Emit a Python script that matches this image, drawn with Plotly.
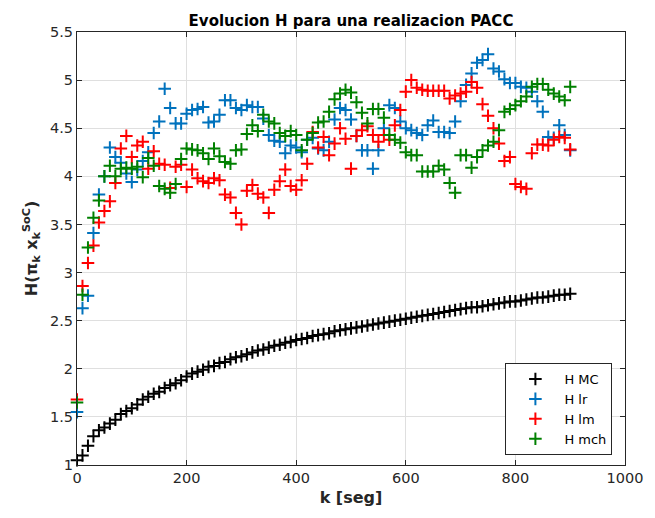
import plotly.graph_objects as go

# k values (seg)
k = list(range(0, 901, 10))

h_mc = [1.05, 1.10, 1.20, 1.30, 1.36, 1.39, 1.43, 1.47, 1.53, 1.56,
        1.59, 1.63, 1.68, 1.71, 1.74, 1.76, 1.80, 1.83, 1.85, 1.88,
        1.92, 1.95, 1.97, 1.99, 2.02, 2.03, 2.06, 2.07, 2.10, 2.12,
        2.13, 2.15, 2.17, 2.19, 2.20, 2.22, 2.24, 2.25, 2.27, 2.28,
        2.30, 2.31, 2.32, 2.34, 2.35, 2.36, 2.37, 2.39, 2.40, 2.41,
        2.42, 2.43, 2.44, 2.45, 2.46, 2.47, 2.48, 2.49, 2.50, 2.51,
        2.52, 2.53, 2.54, 2.55, 2.56, 2.57, 2.58, 2.59, 2.60, 2.61,
        2.62, 2.63, 2.64, 2.64, 2.65, 2.66, 2.67, 2.68, 2.69, 2.70,
        2.70, 2.71, 2.72, 2.73, 2.74, 2.74, 2.75, 2.76, 2.77, 2.77,
        2.78]

h_lr = [1.55, 2.63, 2.76, 3.41, 3.81, 4.00, 4.30, 4.20, 4.14, 4.03,
        3.94, 4.07, 4.16, 4.25, 4.45, 4.57, 4.91, 4.71, 4.55, 4.55,
        4.65, 4.69, 4.70, 4.72, 4.56, 4.57, 4.64, 4.79, 4.79, 4.71,
        4.69, 4.74, 4.72, 4.72, 4.60, 4.43, 4.37, 4.36, 4.24, 4.32,
        4.30, 4.25, 4.38, 4.40, 4.29, 4.27, 4.36, 4.59, 4.71, 4.69,
        4.59, 4.42, 4.27, 4.27, 4.08, 4.27, 4.50, 4.74, 4.71, 4.57,
        4.50, 4.48, 4.45, 4.43, 4.53, 4.58, 4.46, 4.46, 4.45, 4.57,
        4.78, 4.95, 5.07, 5.18, 5.21, 5.27, 5.12, 5.09, 5.01, 4.97,
        4.97, 4.93, 4.92, 4.88, 4.78, 4.67, 4.41, 4.40, 4.53, 4.43,
        4.27]

h_lm = [1.68, 2.86, 3.10, 3.28, 3.52, 3.64, 3.74, 3.93, 4.29, 4.42,
        4.20, 4.32, 4.36, 4.08, 4.26, 4.13, 4.12, 3.88, 4.10, 4.12,
        3.89, 4.07, 3.98, 3.95, 3.93, 3.98, 3.96, 3.81, 3.78, 3.62,
        3.50, 3.85, 3.91, 3.82, 3.78, 3.62, 3.86, 3.95, 4.07, 3.90,
        3.86, 3.96, 4.13, 4.46, 4.30, 4.41, 4.22, 4.34, 4.50, 4.39,
        4.08, 4.42, 4.48, 4.52, 4.43, 4.36, 4.43, 4.38, 4.53, 4.69,
        4.88, 5.00, 4.92, 4.90, 4.89, 4.89, 4.89, 4.89, 4.81, 4.84,
        4.86, 4.88, 4.98, 4.92, 4.75, 4.63, 4.50, 4.34, 4.16, 4.20,
        3.92, 3.89, 3.87, 4.24, 4.33, 4.33, 4.32, 4.38, 4.41, 4.40,
        4.28]

h_mch = [1.65, 2.77, 3.26, 3.57, 3.75, 4.00, 4.11, 4.00, 4.08, 4.09,
         4.08, 4.10, 3.99, 4.19, 4.11, 3.90, 3.87, 3.83, 3.92, 4.18,
         4.29, 4.28, 4.27, 4.24, 4.18, 4.29, 4.21, 4.15, 4.13, 4.27,
         4.28, 4.44, 4.53, 4.47, 4.64, 4.57, 4.55, 4.45, 4.42, 4.47,
         4.43, 4.27, 4.38, 4.45, 4.56, 4.57, 4.67, 4.80, 4.86, 4.90,
         4.87, 4.77, 4.66, 4.55, 4.70, 4.70, 4.61, 4.43, 4.38, 4.35,
         4.25, 4.22, 4.22, 4.05, 4.05, 4.05, 4.11, 4.07, 3.93, 3.83,
         4.22, 4.22, 4.09, 4.20, 4.27, 4.32, 4.36, 4.48, 4.67, 4.70,
         4.74, 4.78, 4.83, 4.93, 4.96, 4.96, 4.90, 4.86, 4.83, 4.79,
         4.93]

series_names = ["H MC", "H lr", "H lm", "H mch"]
series_vals = [h_mc, h_lr, h_lm, h_mch]
series_colors = ["#000000", "#0072BD", "#FF0000", "#008000"]

x_ticks = [0, 200, 400, 600, 800, 1000]
y_ticks = [1, 1.5, 2, 2.5, 3, 3.5, 4, 4.5, 5, 5.5]
y_tick_labels = ["1", "1.5", "2", "2.5", "3", "3.5", "4", "4.5", "5", "5.5"]

FONT = "DejaVu Sans"
AX = "#262626"

fig = go.Figure()
for name, vals, col in zip(series_names, series_vals, series_colors):
    fig.add_trace(go.Scatter(
        x=k, y=vals, mode="markers", name=name, cliponaxis=False,
        marker=dict(symbol="cross-thin", size=9, color=col,
                    line=dict(color=col, width=2)),
    ))

axis_common = dict(
    showline=True, linecolor=AX, linewidth=1, mirror="ticks",
    ticks="inside", ticklen=5, tickcolor=AX, tickwidth=1,
    showgrid=True, gridcolor="#dfdfdf", gridwidth=1, zeroline=False,
    tickfont=dict(family=FONT, size=14.5, color=AX),
)

fig.update_layout(
    width=655, height=518,
    margin=dict(l=77, r=27, t=32, b=53),
    paper_bgcolor="white", plot_bgcolor="white",
    title=dict(text="<b>Evolucion H para una realizacion PACC</b>",
               x=0.5, xref="paper", xanchor="center",
               y=1, yref="paper", yanchor="bottom", pad=dict(b=6),
               font=dict(family=FONT, size=15, color="#000000")),
    xaxis=dict(range=[0, 1000], tickvals=x_ticks,
               title=dict(text="<b>k [seg]</b>", standoff=6,
                          font=dict(family=FONT, size=16, color=AX)),
               **axis_common),
    yaxis=dict(range=[1, 5.5], tickvals=y_ticks, ticktext=y_tick_labels,
               title=dict(text="<b>H(π<sub>k</sub> x<sub>k</sub><sup>SoC</sup>)</b>",
                          standoff=8,
                          font=dict(family=FONT, size=16, color=AX)),
               **axis_common),
    legend=dict(x=0.977, y=0.023, xanchor="right", yanchor="bottom",
                bgcolor="white", bordercolor=AX, borderwidth=1,
                font=dict(family=FONT, size=13, color="#000000"),
                itemwidth=48, tracegroupgap=0),
    showlegend=True,
)

fig.write_html("out.html")
